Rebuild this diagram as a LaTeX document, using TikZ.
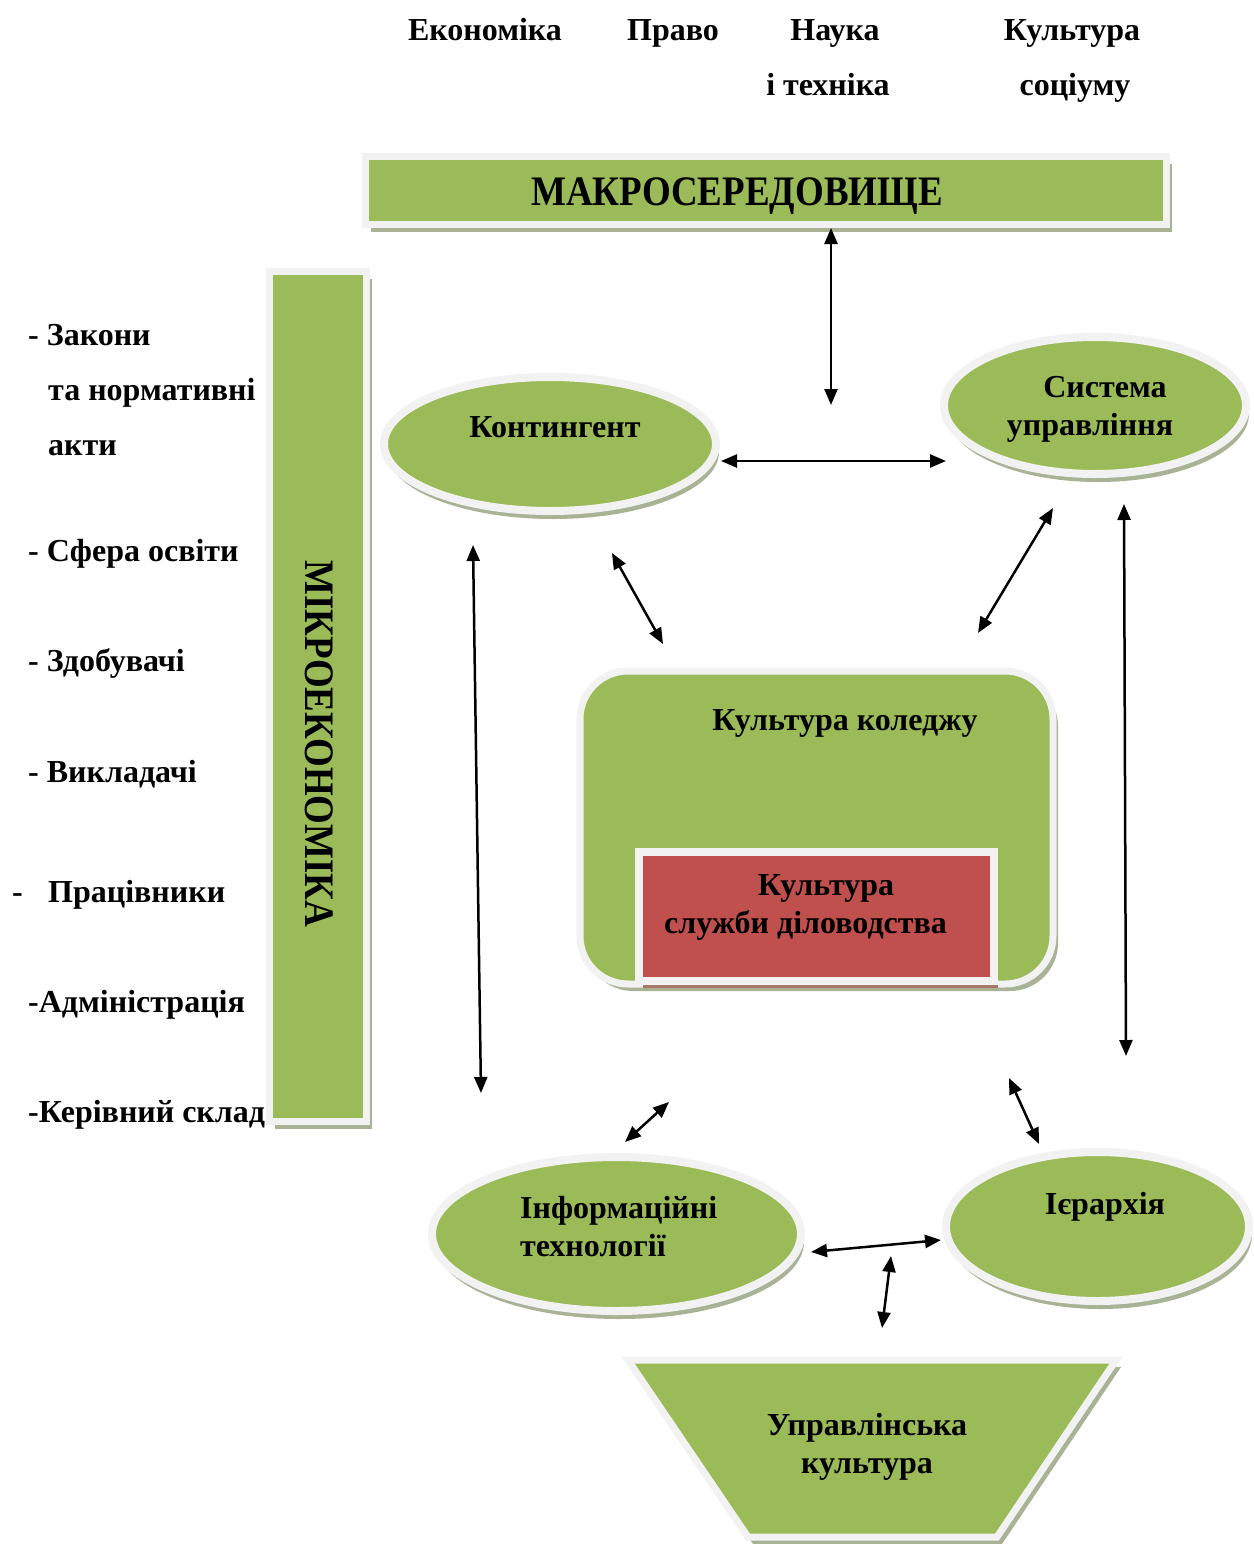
\documentclass[tikz,border=0pt]{standalone}
\usepackage{fontspec}
\setmainfont{Liberation Serif}
\usetikzlibrary{arrows.meta,shadows,shapes.geometric}
\definecolor{gr}{HTML}{9BBB59}
\definecolor{rd}{HTML}{C0504D}
\definecolor{bd}{HTML}{F2F2F2}
\definecolor{sh}{RGB}{168,178,148}
\definecolor{shr}{RGB}{165,120,105}
\newcommand{\bigtxt}{\fontsize{32}{38}\selectfont\bfseries}
\newcommand{\captxt}{\fontsize{42}{42}\selectfont\bfseries}
\begin{document}
\begin{tikzpicture}[x=1pt,y=-1pt,
  lbl/.style={inner sep=0pt, font=\bigtxt, anchor=base},
  lbll/.style={inner sep=0pt, font=\bigtxt, anchor=base west},
  shp/.style={fill=gr, draw=bd, line width=7pt, inner sep=0pt},
  shd/.style={drop shadow={shadow xshift=5pt, shadow yshift=-7pt, fill=sh, opacity=1}},
  eshd/.style={drop shadow={shadow xshift=3pt, shadow yshift=-8pt, fill=sh, opacity=1}},
  ell/.style={shp, eshd, ellipse, line width=8pt},
  arr/.style={{Triangle[length=16pt,width=13pt]}-{Triangle[length=16pt,width=13pt]}, line width=2.5pt}
]
\path[use as bounding box, fill=white] (0,0) rectangle (1253,1544);

% top labels
\node[lbl] (econ) at (485,41) {Економіка};
\node[lbl] (pravo) at (673,41) {Право};
\node[lbl] (nauka1) at (835,41) {Наука};
\node[lbl] (nauka2) at (828,96) {і техніка};
\node[lbl] (kult1) at (1072,41) {Культура};
\node[lbl] (kult2) at (1075,96) {соціуму};

% macro box
\node[shp, shd, minimum width=801pt, minimum height=68pt] (macro) at (766,190.5) {};
\node[inner sep=0pt, anchor=base, font=\captxt] (macroT) at (737,205) {\scalebox{0.88}[1]{МАКРОСЕРЕДОВИЩЕ}};

% micro box
\node[shp, shd, minimum width=97pt, minimum height=850pt] (micro) at (318,696.5) {};
\node[inner sep=0pt, rotate=-90, font=\captxt] (microT) at (319,744) {\scalebox{0.88}[1]{МІКРОЕКОНОМІКА}};

% left list
\node[lbll] (l1) at (28,345) {- Закони};
\node[lbll] (l1b) at (48,400) {та нормативні};
\node[lbll] (l1c) at (48,455) {акти};
\node[lbll] (l2) at (28,561) {- Сфера освіти};
\node[lbll] (l3) at (28,671) {- Здобувачі};
\node[lbll] (l4) at (28,782) {- Викладачі};
\node[lbll] (l5d) at (12,902) {-};
\node[lbll] (l5) at (48,902) {Працівники};
\node[lbll] (l6) at (28,1012) {-Адміністрація};
\node[lbll] (l7) at (28,1122) {-Керівний склад};

% ellipses
\node[ell, minimum width=332pt, minimum height=134pt] (cont) at (550,444) {};
\node[lbl] (contT) at (555,437) {Контингент};

\node[ell, minimum width=302pt, minimum height=137pt] (sys) at (1095,405.5) {};
\node[lbl] (sysT1) at (1105,397) {Система};
\node[lbl] (sysT2) at (1090,435) {управління};

\node[ell, minimum width=369pt, minimum height=154pt] (info) at (616.5,1234) {};
\node[lbll] (infoT1) at (520,1218) {Інформаційні};
\node[lbll] (infoT2) at (520,1256) {технології};

\node[ell, minimum width=303pt, minimum height=149pt] (ier) at (1097.5,1226.5) {};
\node[lbl] (ierT) at (1105,1214) {Ієрархія};

% college culture
\node[shp, shd, rounded corners=48pt, minimum width=473pt, minimum height=313pt] (kol) at (816.5,827.5) {};
\node[lbl] (kolT) at (845,730) {Культура коледжу};
\node[fill=rd, draw=bd, line width=8pt, inner sep=0pt,
      drop shadow={shadow xshift=4pt, shadow yshift=-7pt, fill=shr, opacity=1},
      minimum width=355pt, minimum height=129pt] (red) at (816.5,916.5) {};
\node[lbl] (redT1) at (826,895) {Культура};
\node[lbl] (redT2) at (805.5,933) {служби діловодства};

% management culture trapezoid
\coordinate (t1) at (628,1360);
\coordinate (t2) at (1116,1360);
\coordinate (t3) at (997,1537);
\coordinate (t4) at (748,1537);
\filldraw[fill=gr, draw=bd, line width=7pt, shd] (t1) -- (t2) -- (t3) -- (t4) -- cycle;
\node[lbl] (upT1) at (867,1435) {Управлінська};
\node[lbl] (upT2) at (867,1473) {культура};

% arrows
\coordinate (a1s) at (831,228);  \coordinate (a1e) at (831,405);
\coordinate (a2s) at (721,461);  \coordinate (a2e) at (946,461);
\coordinate (a3s) at (473,545);  \coordinate (a3e) at (481,1093);
\coordinate (a4s) at (612,553);  \coordinate (a4e) at (663,644);
\coordinate (a5s) at (1053,508); \coordinate (a5e) at (978,633);
\coordinate (a6s) at (1124,504); \coordinate (a6e) at (1126,1056);
\coordinate (a7s) at (669,1102); \coordinate (a7e) at (625,1142);
\coordinate (a8s) at (1009,1078);\coordinate (a8e) at (1039,1144);
\coordinate (a9s) at (811,1252); \coordinate (a9e) at (941,1240);
\coordinate (a10s) at (891,1256);\coordinate (a10e) at (882,1328);
\foreach \i in {1,...,10} {\draw[arr] (a\i s) -- (a\i e);}
\end{tikzpicture}
\end{document}
